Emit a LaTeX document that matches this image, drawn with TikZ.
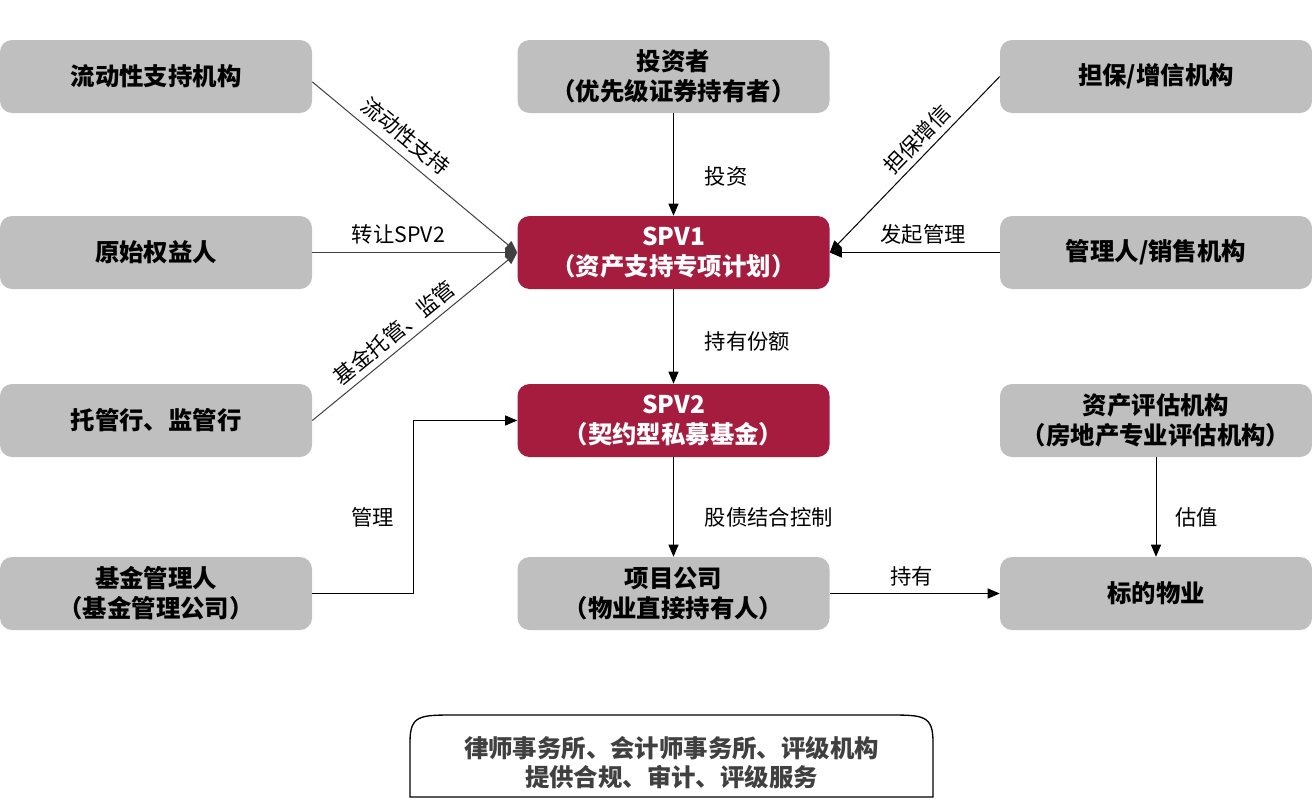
\documentclass[tikz,border=0pt]{standalone}
\usepackage{fontspec}
\setmainfont{Noto Sans CJK SC}
\usetikzlibrary{arrows.meta,calc}
\definecolor{boxgray}{HTML}{BFBFBF}
\definecolor{spvred}{HTML}{A61C3F}
\definecolor{dgray}{HTML}{404040}
\begin{document}
\begin{tikzpicture}[x=0.75pt,y=-0.75pt,
  box/.style={rounded corners=9pt, minimum width=234pt, minimum height=54.75pt, align=center,
    font=\fontsize{18.3}{22.5}\selectfont\bfseries, inner sep=0pt},
  gbox/.style={box, fill=boxgray, text=black},
  rbox/.style={box, fill=spvred, text=white},
  conn/.style={line width=0.75pt, -{Triangle[length=9pt,width=7.5pt]}},
  lbl/.style={font=\fontsize{16}{19}\selectfont, text=black, inner sep=3pt}
]
\useasboundingbox (0,0) rectangle (1312,807);
% left column
\node[gbox] (liq)  at (156,76.5)  {流动性支持机构};
\node[gbox] (orig) at (156,252.5) {原始权益人};
\node[gbox] (cust) at (156,420.5) {托管行、监管行};
\node[gbox] (fmgr) at (156,593.5) {基金管理人\\（基金管理公司）};
% middle column
\node[gbox] (inv)  at (673.5,76.5)  {投资者\\（优先级证券持有者）};
\node[rbox] (spv1) at (673.5,252.5) {SPV1\\（资产支持专项计划）};
\node[rbox] (spv2) at (673.5,420.5) {SPV2\\（契约型私募基金）};
\node[gbox] (proj) at (673.5,593.5) {项目公司\\（物业直接持有人）};
% right column
\node[gbox] (guar) at (1156,76.5)  {担保/增信机构};
\node[gbox] (mgr)  at (1156,252.5) {管理人/销售机构};
\node[gbox] (eval) at (1156,420.5) {资产评估机构\\（房地产专业评估机构）};
\node[gbox] (prop) at (1156,593.5) {标的物业};
% connectors into SPV1 from the left
\draw[conn, dgray] ([yshift=-4pt]liq.east) -- node[lbl, sloped, above=3pt, pos=0.4] {流动性支持} (spv1.west);
\draw[conn, dgray] (orig.east) -- node[lbl, above=3pt, pos=0.42] {转让SPV2} (spv1.west);
\draw[conn, dgray] (cust.east) -- node[lbl, sloped, above=1pt, pos=0.45] {基金托管、监管} (spv1.west);
% middle
\draw[conn] (inv) -- node[lbl, right=20pt, pos=0.62] {投资} (spv1);
\draw[conn] (spv1) -- node[lbl, right=20pt, pos=0.55] {持有份额} (spv2);
\draw[conn] (spv2) -- node[lbl, right=20pt, pos=0.6] {股债结合控制} (proj);
% right
\draw[conn] (guar.west) -- node[lbl, sloped, above=1pt, pos=0.42] {担保增信} (spv1.east);
\draw[conn] (mgr.west) -- node[lbl, above=3pt, pos=0.45] {发起管理} (spv1.east);
\draw[conn] (eval) -- node[lbl, right=11pt, pos=0.6] {估值} (prop);
\draw[conn] (proj) -- node[lbl, above=2pt, pos=0.48] {持有} (prop);
% fund manager
\coordinate (mbend) at (413,593.5);
\draw[conn] (fmgr.east) -- (mbend) |- node[lbl, left=11pt, pos=0.22] {管理} (spv2.west);
% bottom note
\draw[line width=1pt, fill=white] (410,797) -- (410,742) .. controls (410,715) and (420,715) .. (455,715)
  -- (888,715) .. controls (923,715) and (933,715) .. (933,742) -- (933,797) -- cycle;
\node[align=center, text=dgray, font=\fontsize{18.3}{22}\selectfont\bfseries] (note) at (671.5,762.5)
  {律师事务所、会计师事务所、评级机构\\提供合规、审计、评级服务};
\end{tikzpicture}
\end{document}
